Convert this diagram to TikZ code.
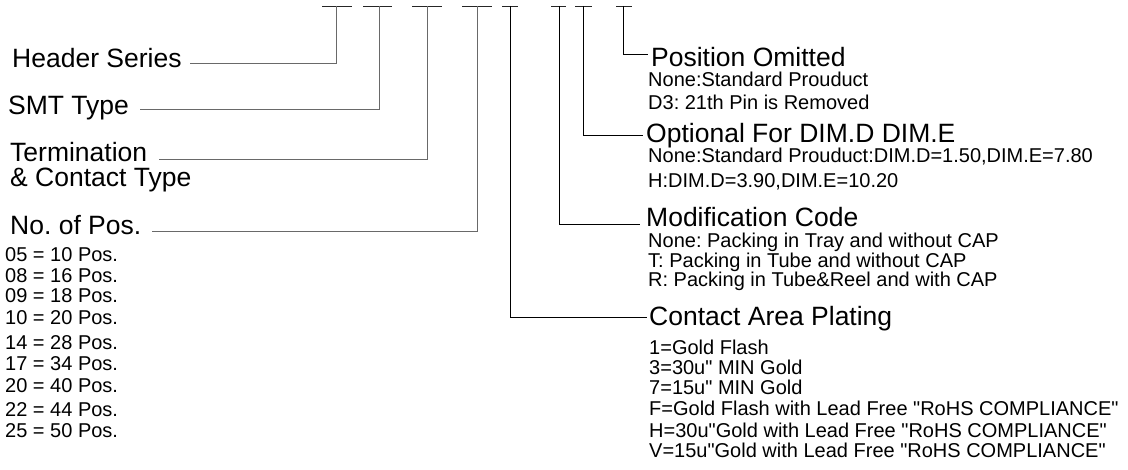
\documentclass[tikz,border=0pt]{standalone}
\usepackage{fontspec}
\setmainfont{Liberation Sans}[Ligatures=TeXOff]
\definecolor{lgray}{RGB}{105,105,105}
\frenchspacing
\begin{document}
\begin{tikzpicture}[x=1pt,y=-1pt,
  big/.style={anchor=base west,inner sep=0pt,font=\fontsize{26.5}{26.5}\selectfont},
  small/.style={anchor=base west,inner sep=0pt,font=\fontsize{20}{20}\selectfont},
  gl/.style={draw=lgray,line width=0.9pt},
  bl/.style={draw=black,line width=0.9pt},
  tick/.style={draw=black!85,line width=0.9pt}]
\useasboundingbox (0,0) rectangle (1128,470);
% tick marks
\coordinate (t1) at (336,6);
\coordinate (t2) at (379,6);
\coordinate (t3) at (427,6);
\coordinate (t4) at (477,6);
\coordinate (t5) at (510,6);
\coordinate (t6) at (559,6);
\coordinate (t7) at (583,6);
\coordinate (t8) at (623,6);
\draw[tick] (322,6) -- (352,6);
\draw[tick] (363,6) -- (392,6);
\draw[tick] (412,6) -- (442,6);
\draw[tick] (462,6) -- (492,6);
\draw[tick] (502,6) -- (518,6);
\draw[tick] (551,6) -- (566,6);
\draw[tick] (575,6) -- (592,6);
\draw[tick] (616,6) -- (632,6);
% left labels
\node[big] (hs) at (12,68) {Header Series};
\node[big] (smt) at (8,115) {SMT Type};
\node[big] (term) at (10,162) {Termination};
\node[big] (cont) at (10,187) {\& Contact Type};
\node[big] (nop) at (10,235) {No. of Pos.};
\coordinate (e1) at (190,63);
\coordinate (e2) at (140,109);
\coordinate (e3) at (159,159);
\coordinate (e4) at (152,231);
\draw[gl] (t1) |- (e1);
\draw[gl] (t2) |- (e2);
\draw[gl] (t3) |- (e3);
\draw[gl] (t4) |- (e4);
% position list
\node[small] (p1) at (5,262) {05 = 10 Pos.};
\node[small] (p2) at (5,283) {08 = 16 Pos.};
\node[small] (p3) at (5,303) {09 = 18 Pos.};
\node[small] (p4) at (5,325) {10 = 20 Pos.};
\node[small] (p5) at (5,350) {14 = 28 Pos.};
\node[small] (p6) at (5,371) {17 = 34 Pos.};
\node[small] (p7) at (5,393) {20 = 40 Pos.};
\node[small] (p8) at (5,417) {22 = 44 Pos.};
\node[small] (p9) at (5,438) {25 = 50 Pos.};
% right labels
\node[big] (po) at (651,67) {Position Omitted};
\node[small] (po1) at (648,87) {None:Standard Prouduct};
\node[small] (po2) at (648,110) {D3: 21th Pin is Removed};
\node[big] (op) at (646,143) {Optional For DIM.D DIM.E};
\node[small] (op1) at (648,163) {None:Standard Prouduct:DIM.D=1.50,DIM.E=7.80};
\node[small] (op2) at (648,188) {H:DIM.D=3.90,DIM.E=10.20};
\node[big] (mc) at (646,227) {Modification Code};
\node[small] (mc1) at (648,248) {None: Packing in Tray and without CAP};
\node[small] (mc2) at (648,268) {T: Packing in Tube and without CAP};
\node[small] (mc3) at (648,287) {R: Packing in Tube\&Reel and with CAP};
\node[big] (ca) at (649,326) {Contact Area Plating};
\node[small] (ca1) at (649,355) {1=Gold Flash};
\node[small] (ca2) at (649,375) {3=30u" MIN Gold};
\node[small] (ca3) at (649,395) {7=15u" MIN Gold};
\node[small] (ca4) at (649,416) {F=Gold Flash with Lead Free "RoHS COMPLIANCE"};
\node[small] (ca5) at (649,437) {H=30u"Gold with Lead Free "RoHS COMPLIANCE"};
\node[small] (ca6) at (649,457) {V=15u"Gold with Lead Free "RoHS COMPLIANCE"};
\coordinate (r8) at (648,54);
\coordinate (r7) at (643,135);
\coordinate (r6) at (640,224);
\coordinate (r5) at (647,317);
\draw[bl] (t8) |- (r8);
\draw[bl] (t7) |- (r7);
\draw[bl] (t6) |- (r6);
\draw[bl] (t5) |- (r5);
\end{tikzpicture}
\end{document}
